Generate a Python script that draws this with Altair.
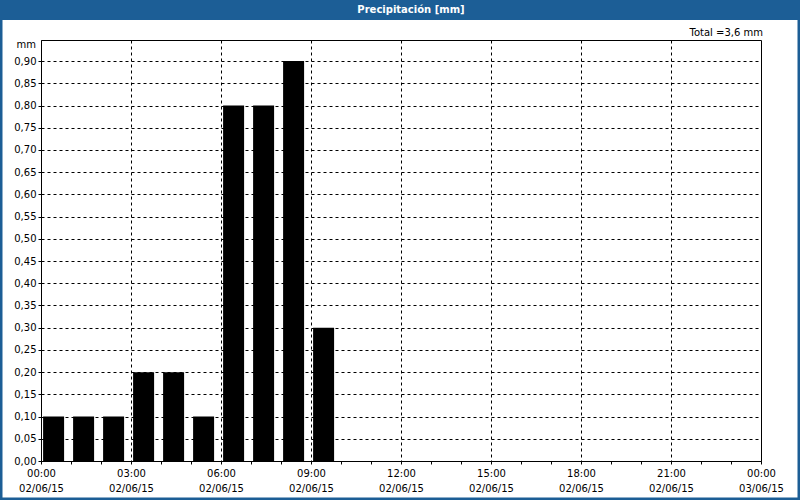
import altair as alt
import pandas as pd

# Data
hours = [0, 1, 2, 3, 4, 5, 6, 7, 8, 9]
precip = [0.10, 0.10, 0.10, 0.20, 0.20, 0.10, 0.80, 0.80, 0.90, 0.30]
tick_hours = [0, 3, 6, 9, 12, 15, 18, 21, 24]
time_labels = ["00:00", "03:00", "06:00", "09:00", "12:00", "15:00", "18:00", "21:00", "00:00"]
date_labels = ["02/06/15"] * 8 + ["03/06/15"]
y_ticks = [round(i * 0.05, 2) for i in range(19)]
title_text = "Precipitación [mm]"
unit_text = "mm"
total_text = "Total =3,6 mm"

FONT = "DejaVu Sans"
BLUE = "#1c5e96"
W, H = 720, 421
PL, PT = 41, 40

df = pd.DataFrame({"h": hours, "v": precip})
df["x0"] = df["h"] + 0.07
df["x1"] = df["h"] + 0.77

lbl_map = "{" + ",".join(
    f"'{h}': ['{t}', '{d}']" for h, t, d in zip(tick_hours, time_labels, date_labels)
) + "}"

xscale = alt.Scale(domain=[0, 24], nice=False, zero=False)
yscale = alt.Scale(domain=[0, 0.9475], nice=False)

x_axis = alt.Axis(
    values=list(range(25)),
    labelExpr=f"datum.value % 3 === 0 ? {lbl_map}[datum.value + ''] : ''",
    labelFont=FONT, labelFontSize=10, labelColor="#000000",
    labelLineHeight=15, labelPadding=4, labelFlush=False, labelOverlap=False,
    tickSize=3, tickColor="#000000", domainColor="#000000",
    grid=True, gridColor="#000000", gridDash=[3, 3],
    gridOpacity=alt.condition("datum.value % 3 === 0 && datum.value > 0 && datum.value < 24", alt.value(1), alt.value(0)),
    title=None,
)
y_axis = alt.Axis(
    values=y_ticks,
    labelExpr="replace(format(datum.value, '.2f'), '.', ',')",
    labelFont=FONT, labelFontSize=10, labelColor="#000000", labelPadding=2,
    tickSize=3, tickColor="#000000", domainColor="#000000",
    grid=True, gridColor="#000000", gridDash=[3, 3],
    gridOpacity=alt.condition("datum.value > 0", alt.value(1), alt.value(0)),
    title=None,
)

bars = alt.Chart(df).mark_rect(color="#000000").encode(
    x=alt.X("x0:Q", scale=xscale, axis=x_axis),
    x2="x1:Q",
    y=alt.Y("v:Q", scale=yscale, axis=y_axis),
    y2=alt.datum(0),
)

deco = pd.DataFrame({"a": [0]})
frame = alt.Chart(deco).mark_rect(fill=None, fillOpacity=0, stroke=BLUE, strokeWidth=3, clip=False).encode(
    x=alt.value(-PL + 1), x2=alt.value(800 - PL - 1),
    y=alt.value(-PT + 1), y2=alt.value(500 - PT - 1),
)
title_bar = alt.Chart(deco).mark_rect(fill=BLUE, clip=False).encode(
    x=alt.value(-PL), x2=alt.value(800 - PL),
    y=alt.value(-PT), y2=alt.value(-PT + 20),
)
title = alt.Chart(deco).mark_text(
    text=title_text, font=FONT, fontSize=10, fontWeight="bold", color="white",
    align="center", baseline="middle", clip=False,
).encode(x=alt.value(411 - PL), y=alt.value(10 - PT))
unit = alt.Chart(deco).mark_text(
    text=unit_text, font=FONT, fontSize=10, color="#000000",
    align="right", baseline="middle", clip=False,
).encode(x=alt.value(36 - PL), y=alt.value(45 - PT))
total = alt.Chart(deco).mark_text(
    text=total_text, font=FONT, fontSize=10, color="#000000",
    align="right", baseline="middle", clip=False,
).encode(x=alt.value(763 - PL), y=alt.value(33 - PT))

chart = alt.layer(bars, frame, title_bar, title, unit, total).properties(
    width=W, height=H,
    padding={"left": PL, "top": PT, "right": 800 - PL - W, "bottom": 500 - PT - H},
    autosize=alt.AutoSizeParams(type="none"),
    background="white",
).configure_view(stroke="#000000", strokeWidth=1, fill="white")

chart.save("out.html", embed_options={"renderer": "svg", "actions": False})
